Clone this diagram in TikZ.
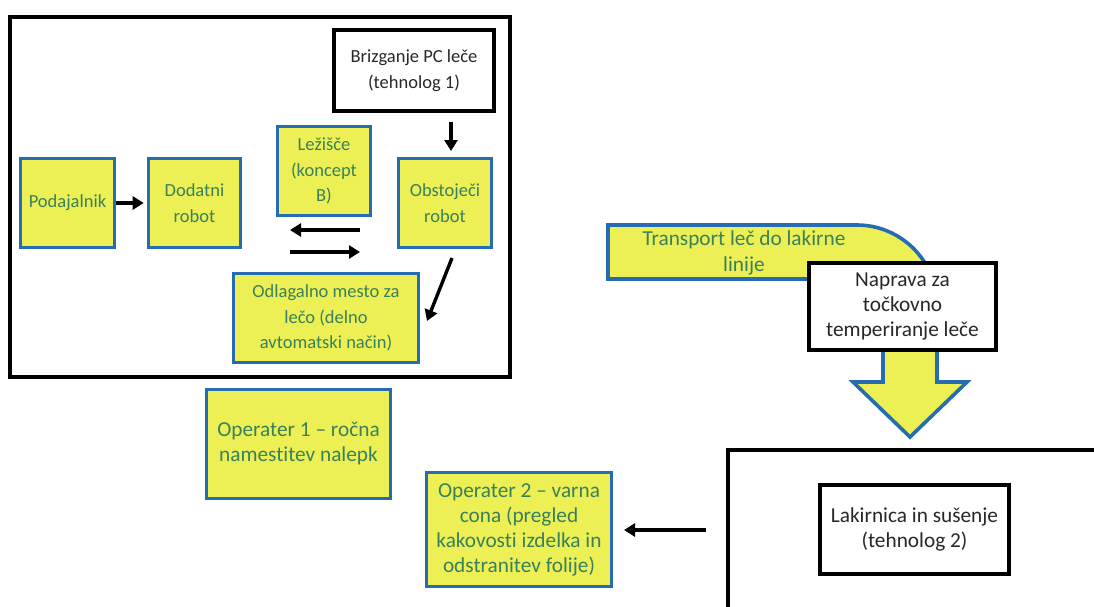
\documentclass[tikz,border=0pt]{standalone}
\usepackage{fontspec}
\setmainfont{Carlito}[Ligatures=NoCommon]
\usetikzlibrary{arrows.meta}
\definecolor{yfill}{RGB}{236,240,84}
\definecolor{bline}{RGB}{38,108,178}
\definecolor{gtext}{RGB}{58,128,92}
\definecolor{dtext}{RGB}{40,40,40}
\tikzset{
  ybox/.style={draw=bline, line width=3.6pt, fill=yfill, text=gtext, align=center, inner sep=0pt, font=\fontsize{18.5}{25.5}\selectfont},
  ybig/.style={ybox, font=\fontsize{21.3}{25}\selectfont},
  wbox/.style={draw=black, line width=4.6pt, fill=white, text=dtext, align=center, inner sep=0pt, font=\fontsize{21.3}{25}\selectfont},
  wsmall/.style={wbox, font=\fontsize{18.5}{25.5}\selectfont},
  frameline/.style={draw=black, line width=4.6pt},
  conn/.style={line width=3.4pt, -{Triangle[length=11pt,width=13pt]}},
}
\begin{document}
\begin{tikzpicture}[x=1pt,y=-1pt]
\useasboundingbox (0,0) rectangle (1094,606);

% outer frame
\draw[frameline] (10,17) rectangle (510,377);

% boxes inside frame
\node[ybox, minimum width=94pt, minimum height=89pt] (pod) at (67.5,203) {Podajalnik};
\node[ybox, minimum width=92pt, minimum height=89pt] (dod) at (194.5,203) {Dodatni\\robot};
\node[ybox, minimum width=93pt, minimum height=89pt] (lez) at (324,171) {Ležišče\\(koncept\\B)};
\node[ybox, minimum width=93pt, minimum height=89pt] (obst) at (445,203) {Obstoječi\\robot};
\node[ybox, minimum width=185pt, minimum height=89pt] (odl) at (326,318) {Odlagalno mesto za\\lečo (delno\\avtomatski način)};
\node[wsmall, minimum width=160pt, minimum height=81pt] (briz) at (414,70.5) {Brizganje PC leče\\(tehnolog 1)};

% operators
\node[ybig, minimum width=184pt, minimum height=109pt] (op1) at (298.5,444) {Operater 1 – ročna\\namestitev nalepk};
\node[ybig, minimum width=185pt, minimum height=114pt] (op2) at (519,529.5) {Operater 2 – varna\\cona (pregled\\kakovosti izdelka in\\odstranitev folije)};

% connectors inside frame
\draw[conn, shorten >=3pt] (pod.east) -- (dod.west);
\coordinate (brizout) at (451,122);
\coordinate (obstin) at (451,151);
\draw[conn] (brizout) -- (obstin);
\coordinate (la1) at (360,230);
\coordinate (la2) at (290,230);
\coordinate (ra1) at (290,252);
\coordinate (ra2) at (360,252);
\draw[conn] (la1) -- (la2);
\draw[conn] (ra1) -- (ra2);
\coordinate (obstout) at (452,258);
\coordinate (odlin) at (427,321);
\draw[conn] (obstout) -- (odlin);

% transport bent arrow
\draw[draw=bline, line width=3.6pt, fill=yfill, line join=miter]
  (608,225) -- (857,225) .. controls (901,225) and (937,261) .. (937,305)
  -- (937,382) -- (967,382) -- (910,437) -- (853,382) -- (883,382) -- (883,300)
  .. controls (883,288) and (874,279) .. (862,279) -- (608,279) -- cycle;
\node[text=gtext, align=center, inner sep=0pt, font=\fontsize{21.3}{25.5}\selectfont] (trans) at (744,253) {Transport leč do lakirne\\linije};

\node[wbox, minimum width=187pt, minimum height=87pt] (nap) at (902.5,306.5) {Naprava za\\točkovno\\temperiranje leče};

% lakirnica
\draw[frameline] (728,610) -- (728,450) -- (1098,450);
\node[wbox, minimum width=189pt, minimum height=89pt] (lak) at (914.5,529.5) {Lakirnica in sušenje\\(tehnolog 2)};

\coordinate (lakout) at (706,530);
\coordinate (op2in) at (624,530);
\draw[conn] (lakout) -- (op2in);
\end{tikzpicture}
\end{document}
